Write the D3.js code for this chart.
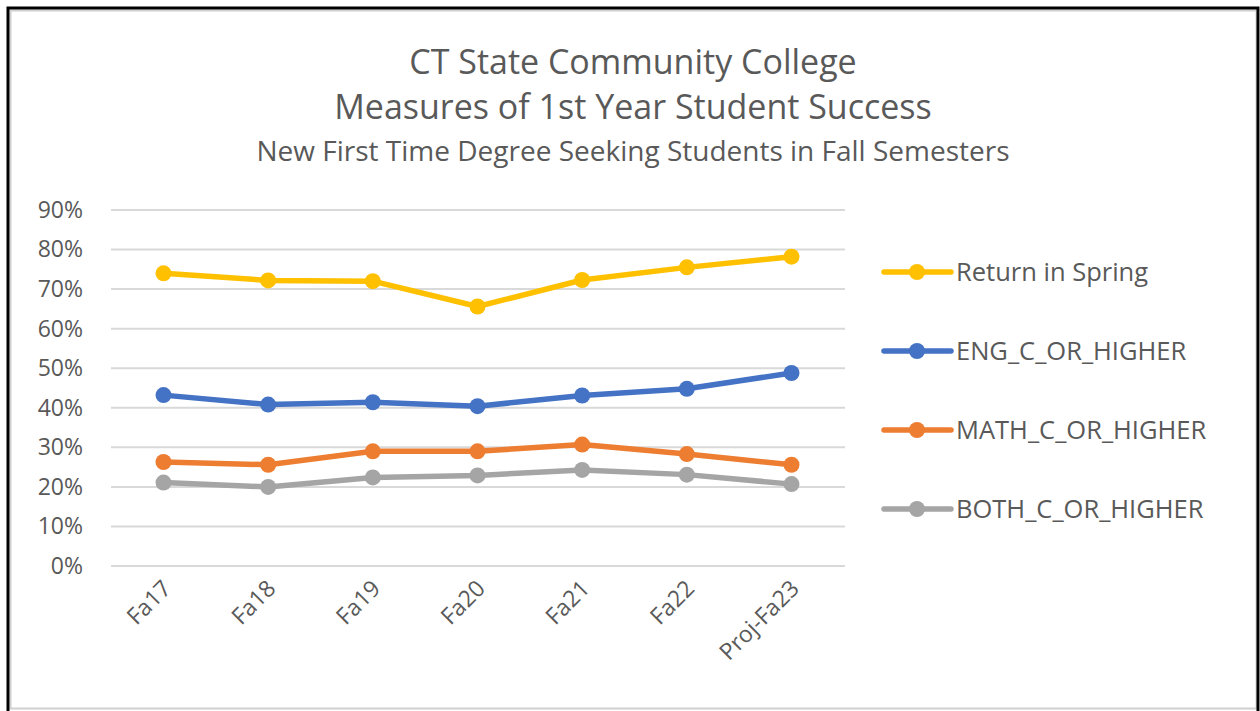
<!DOCTYPE html>
<html>
<head>
<meta charset="utf-8">
<script src="https://d3js.org/d3.v7.min.js"></script>
<style>
    html, body { margin: 0; padding: 0; background: #fff; }
    text { font-family: "Open Sans", Lato, sans-serif; fill: #595959; }
</style>
</head>
<body>
<svg width="1260" height="711"></svg>
<script>
    // chart data
    const terms = ["Fa17", "Fa18", "Fa19", "Fa20", "Fa21", "Fa22", "Proj-Fa23"];
    const seriesNames = ["Return in Spring", "ENG_C_OR_HIGHER", "MATH_C_OR_HIGHER", "BOTH_C_OR_HIGHER"];
    const returnSpring = [0.740, 0.722, 0.720, 0.656, 0.723, 0.755, 0.782];
    const engC = [0.432, 0.408, 0.414, 0.404, 0.431, 0.448, 0.488];
    const mathC = [0.263, 0.256, 0.290, 0.290, 0.307, 0.283, 0.256];
    const bothC = [0.211, 0.200, 0.224, 0.229, 0.243, 0.231, 0.207];
    const yTicks = [0, 0.1, 0.2, 0.3, 0.4, 0.5, 0.6, 0.7, 0.8, 0.9];
    const colors = ["#FFC000", "#4472C4", "#ED7D31", "#A5A5A5"];

    const allSeries = [returnSpring, engC, mathC, bothC];

    const svg = d3.select("svg");

    // outer frame
    svg.append("rect")
        .attr("x", 10.5).attr("y", 10.5)
        .attr("width", 1246).attr("height", 698)
        .attr("fill", "none")
        .attr("stroke", "#d0d0d0")
        .attr("stroke-width", 2);
    svg.append("rect")
        .attr("x", 8).attr("y", 8)
        .attr("width", 1250).attr("height", 710)
        .attr("fill", "none")
        .attr("stroke", "#000")
        .attr("stroke-width", 3);

    // titles
    svg.append("text").attr("x", 633).attr("y", 74)
        .attr("text-anchor", "middle").style("font-size", "34px")
        .text("CT State Community College");
    svg.append("text").attr("x", 633).attr("y", 119)
        .attr("text-anchor", "middle").style("font-size", "34px")
        .text("Measures of 1st Year Student Success");
    svg.append("text").attr("x", 633).attr("y", 161)
        .attr("text-anchor", "middle").style("font-size", "28px")
        .text("New First Time Degree Seeking Students in Fall Semesters");

    // scales
    const x = d3.scalePoint().domain(terms).range([163.5, 791.5]);
    const y = d3.scaleLinear().domain([0, 0.9]).range([566, 210]);

    // gridlines
    svg.append("g")
        .selectAll("line")
        .data(yTicks)
        .enter()
        .append("line")
        .attr("x1", 111).attr("x2", 845)
        .attr("y1", d => y(d)).attr("y2", d => y(d))
        .attr("stroke", "#d9d9d9")
        .attr("stroke-width", 2);

    // y axis labels
    const yAxis = d3.axisLeft(y)
        .tickValues(yTicks)
        .tickFormat(d3.format(".0%"))
        .tickSize(0)
        .tickPadding(0);
    const yg = svg.append("g")
        .attr("transform", "translate(83,0)")
        .call(yAxis);
    yg.select(".domain").remove();
    yg.selectAll("text")
        .attr("fill", "#595959")
        .style("font-size", "23px")
        .style("font-family", "'Open Sans', Lato, sans-serif");

    // x axis labels (rotated)
    svg.append("g")
        .selectAll("text")
        .data(terms)
        .enter()
        .append("text")
        .attr("text-anchor", "end")
        .style("font-size", "23px")
        .attr("transform", d => `translate(${x(d) + 9},${590}) rotate(-45)`)
        .text(d => d);

    // lines + markers
    const line = d3.line()
        .x((d, i) => x(terms[i]))
        .y(d => y(d));

    allSeries.forEach(function (vals, k) {
        const g = svg.append("g");
        g.append("path")
            .datum(vals)
            .attr("d", line)
            .attr("fill", "none")
            .attr("stroke", colors[k])
            .attr("stroke-width", 5.5)
            .attr("stroke-linejoin", "round")
            .attr("stroke-linecap", "round");
        g.selectAll("circle")
            .data(vals)
            .enter()
            .append("circle")
            .attr("cx", (d, i) => x(terms[i]))
            .attr("cy", d => y(d))
            .attr("r", 8)
            .attr("fill", colors[k]);
    });

    // legend
    const legend = svg.append("g")
        .selectAll("g")
        .data(seriesNames)
        .enter()
        .append("g")
        .attr("transform", (d, i) => `translate(0,${272 + i * 79})`);
    legend.append("line")
        .attr("x1", 884).attr("x2", 951)
        .attr("stroke", (d, i) => colors[i])
        .attr("stroke-width", 5.5)
        .attr("stroke-linecap", "round");
    legend.append("circle")
        .attr("cx", 917).attr("r", 8)
        .attr("fill", (d, i) => colors[i]);
    legend.append("text")
        .attr("x", 956).attr("y", 8.5)
        .style("font-size", "25.5px")
        .text(d => d);
</script>
</body>
</html>
